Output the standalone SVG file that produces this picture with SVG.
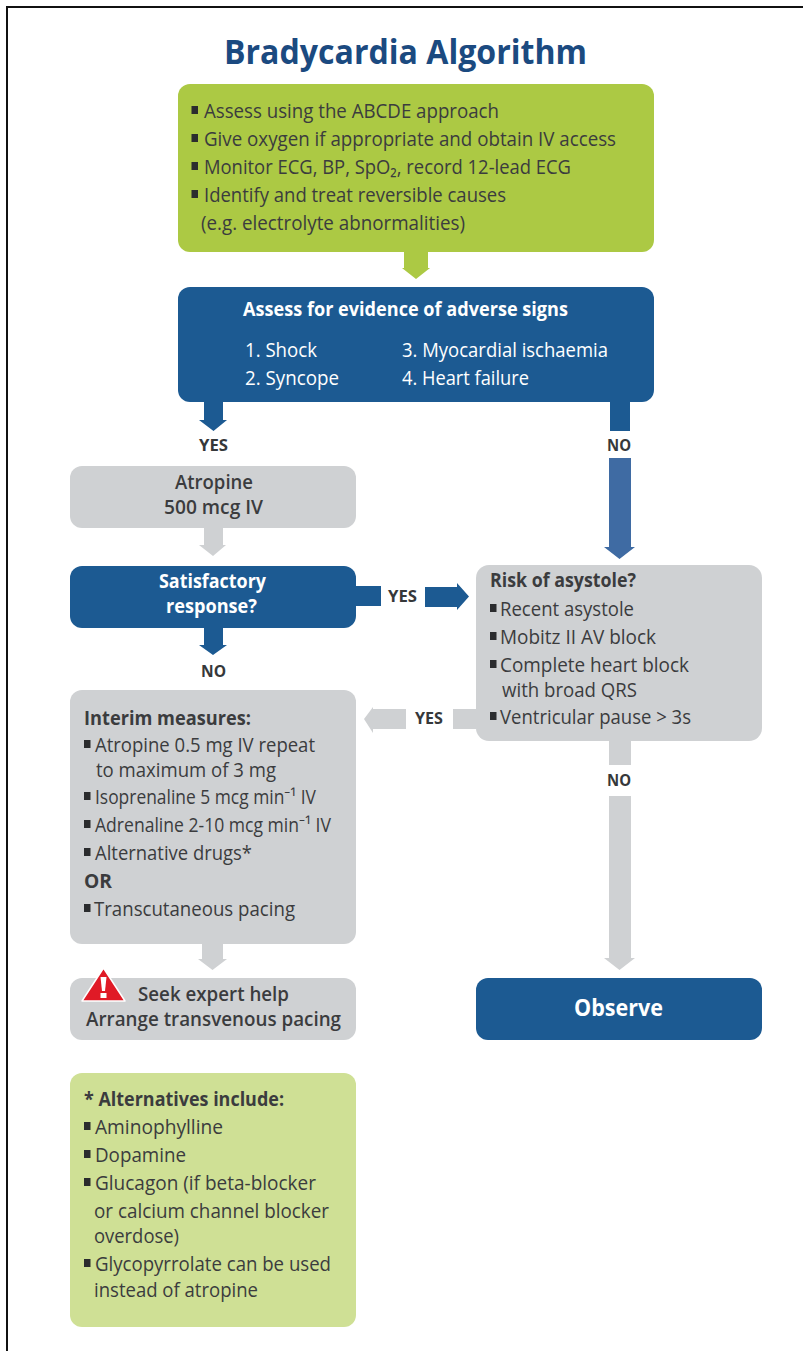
<svg xmlns="http://www.w3.org/2000/svg" width="803" height="1351" viewBox="0 0 803 1351">
<style>
text{font-family:"Open Sans","Noto Sans","Liberation Sans",sans-serif;font-size:20px;fill:#3b3c3e}
.b{font-weight:700}
.s{font-weight:600}
.w{fill:#fff}
.l{font-size:16.500px;font-weight:700;fill:#36383a}
.g{fill:#acc944}.pg{fill:#cfe095}.bl{fill:#1c5a92}.gr{fill:#cfd1d3}.bm{fill:#3f6ba3}
.bu{fill:#2b2c2e}
.sub{font-size:12px}
</style>
<defs><rect id="bu" class="bu" width="6.500" height="8"/></defs>
<rect width="803" height="1351" fill="#fff"/>
<path d="M7 1351V7H803" fill="none" stroke="#111" stroke-width="2"/>
<text id="title" x="224" y="64" textLength="363" lengthAdjust="spacingAndGlyphs" style="font-size:34px;font-weight:700;fill:#1b4a80">Bradycardia Algorithm</text>

<g id="connectors">
<path class="g" d="M404 252H428V268H430L416 279L402 268H404Z"/>
<path class="bl" d="M204 402H223V420H227L213.500 431L199 420H204Z"/>
<path class="bl" d="M610 402H630V431H610Z"/>
<text class="l" x="199" y="451" textLength="29" lengthAdjust="spacingAndGlyphs">YES</text>
<text class="l" x="607" y="451" textLength="24" lengthAdjust="spacingAndGlyphs">NO</text>
<path class="bm" d="M609 458H631V547H635L619.500 559L604 547H609Z"/>
<path class="gr" d="M204 528H223V545H226L213 556L199 545H204Z"/>
<path class="bl" d="M356 586H381V606H356Z"/>
<text class="l" x="388" y="602" textLength="29" lengthAdjust="spacingAndGlyphs">YES</text>
<path class="bl" d="M425 587H457V583L469 596.500L457 610V607H425Z"/>
<path class="bl" d="M204 628H223V645H227L213 655L199 645H204Z"/>
<text class="l" x="201" y="677" textLength="25" lengthAdjust="spacingAndGlyphs">NO</text>
<path class="gr" d="M453 709H476V729H453Z"/>
<text class="l" x="415" y="724" textLength="28" lengthAdjust="spacingAndGlyphs">YES</text>
<path class="gr" d="M406 709V729H373V733L364 719L373 707V709Z"/>
<path class="gr" d="M609 741H631V765H609Z"/>
<text class="l" x="607" y="786" textLength="24" lengthAdjust="spacingAndGlyphs">NO</text>
<path class="gr" d="M609 796H631V958H635L619.500 970L604 958H609Z"/>
<path class="gr" d="M202 943H223V959H227L212.500 970L198 959H202Z"/>
</g>

<g id="assess">
<rect class="g" x="178" y="84" width="476" height="168" rx="12"/>
<use href="#bu" x="191.500" y="106"/>
<text x="204" y="118" textLength="295" lengthAdjust="spacingAndGlyphs">Assess using the ABCDE approach</text>
<use href="#bu" x="191.500" y="134"/>
<text x="204" y="146" textLength="412" lengthAdjust="spacingAndGlyphs">Give oxygen if appropriate and obtain IV access</text>
<use href="#bu" x="191.500" y="162"/>
<text x="204" y="174" textLength="367" lengthAdjust="spacingAndGlyphs">Monitor ECG, BP, SpO₂, record 12-lead ECG</text>
<use href="#bu" x="191.500" y="190"/>
<text x="204" y="202" textLength="302" lengthAdjust="spacingAndGlyphs">Identify and treat reversible causes</text>
<text x="201" y="230" textLength="264" lengthAdjust="spacingAndGlyphs">(e.g. electrolyte abnormalities)</text>
</g>

<g id="adverse">
<rect class="bl" x="178" y="287" width="476" height="115" rx="12"/>
<text class="b w" x="243" y="316" textLength="325" lengthAdjust="spacingAndGlyphs">Assess for evidence of adverse signs</text>
<text class="w" x="245" y="357" textLength="72" lengthAdjust="spacingAndGlyphs">1. Shock</text>
<text class="w" x="402" y="357" textLength="206" lengthAdjust="spacingAndGlyphs">3. Myocardial ischaemia</text>
<text class="w" x="245" y="385" textLength="94" lengthAdjust="spacingAndGlyphs">2. Syncope</text>
<text class="w" x="402" y="385" textLength="127" lengthAdjust="spacingAndGlyphs">4. Heart failure</text>
</g>

<g id="atropine">
<rect class="gr" x="70" y="466" width="286" height="62" rx="12"/>
<text class="s" x="175" y="489" textLength="78" lengthAdjust="spacingAndGlyphs">Atropine</text>
<text class="s" x="164" y="514" textLength="99" lengthAdjust="spacingAndGlyphs">500 mcg IV</text>
</g>

<g id="satisfactory">
<rect class="bl" x="70" y="566" width="286" height="62" rx="12"/>
<text class="b w" x="159" y="588" textLength="107" lengthAdjust="spacingAndGlyphs">Satisfactory</text>
<text class="b w" x="166" y="613" textLength="91" lengthAdjust="spacingAndGlyphs">response?</text>
</g>

<g id="risk">
<rect class="gr" x="476" y="565" width="286" height="176" rx="13"/>
<text class="b" x="490" y="587" textLength="146" lengthAdjust="spacingAndGlyphs">Risk of asystole?</text>
<use href="#bu" x="490" y="604"/>
<text x="500" y="616" textLength="134" lengthAdjust="spacingAndGlyphs">Recent asystole</text>
<use href="#bu" x="490" y="632"/>
<text x="500" y="644" textLength="156" lengthAdjust="spacingAndGlyphs">Mobitz II AV block</text>
<use href="#bu" x="490" y="660"/>
<text x="500" y="672" textLength="189" lengthAdjust="spacingAndGlyphs">Complete heart block</text>
<text x="502" y="697" textLength="135" lengthAdjust="spacingAndGlyphs">with broad QRS</text>
<use href="#bu" x="490" y="712"/>
<text x="500" y="724" textLength="191" lengthAdjust="spacingAndGlyphs">Ventricular pause &gt; 3s</text>
</g>

<g id="interim">
<rect class="gr" x="70" y="690" width="286" height="254" rx="12"/>
<text class="b" x="84" y="725" textLength="167" lengthAdjust="spacingAndGlyphs">Interim measures:</text>
<use href="#bu" x="84" y="740"/>
<text x="95" y="752" textLength="220" lengthAdjust="spacingAndGlyphs">Atropine 0.5 mg IV repeat</text>
<text x="96" y="777" textLength="180" lengthAdjust="spacingAndGlyphs">to maximum of 3 mg</text>
<use href="#bu" x="84" y="792"/>
<text x="95" y="804" textLength="221" lengthAdjust="spacingAndGlyphs">Isoprenaline 5 mcg min⁻¹ IV</text>
<use href="#bu" x="84" y="820"/>
<text x="95" y="832" textLength="236" lengthAdjust="spacingAndGlyphs">Adrenaline 2-10 mcg min⁻¹ IV</text>
<use href="#bu" x="84" y="848"/>
<text x="95" y="860" textLength="157" lengthAdjust="spacingAndGlyphs">Alternative drugs*</text>
<text class="b" x="84" y="888" textLength="28" lengthAdjust="spacingAndGlyphs">OR</text>
<use href="#bu" x="84" y="904"/>
<text x="94" y="916" textLength="201" lengthAdjust="spacingAndGlyphs">Transcutaneous pacing</text>
</g>

<g id="expert">
<rect class="gr" x="70" y="978" width="286" height="62" rx="12"/>
<path d="M103.500 968L125 1001H82Z" fill="#e01a26" stroke="#fff" stroke-width="1.500" stroke-linejoin="round"/>
<path d="M100.500 977H106.500L105 991H102Z" fill="#fff"/>
<rect x="100.500" y="993" width="6" height="5" fill="#fff"/>
<text class="s" x="138" y="1001" textLength="151" lengthAdjust="spacingAndGlyphs">Seek expert help</text>
<text class="s" x="86" y="1026" textLength="255" lengthAdjust="spacingAndGlyphs">Arrange transvenous pacing</text>
</g>

<g id="observe">
<rect class="bl" x="476" y="978" width="286" height="62" rx="12"/>
<text class="b w" style="font-size:23px" x="574" y="1016" textLength="89" lengthAdjust="spacingAndGlyphs">Observe</text>
</g>

<g id="alternatives">
<rect class="pg" x="70" y="1073" width="286" height="254" rx="12"/>
<text class="b" x="84" y="1106" textLength="200" lengthAdjust="spacingAndGlyphs">* Alternatives include:</text>
<use href="#bu" x="84" y="1122"/>
<text x="95" y="1134" textLength="128" lengthAdjust="spacingAndGlyphs">Aminophylline</text>
<use href="#bu" x="84" y="1150"/>
<text x="95" y="1162" textLength="91" lengthAdjust="spacingAndGlyphs">Dopamine</text>
<use href="#bu" x="84" y="1178"/>
<text x="95" y="1190" textLength="221" lengthAdjust="spacingAndGlyphs">Glucagon (if beta-blocker</text>
<text x="94" y="1218" textLength="235" lengthAdjust="spacingAndGlyphs">or calcium channel blocker</text>
<text x="94" y="1243" textLength="85" lengthAdjust="spacingAndGlyphs">overdose)</text>
<use href="#bu" x="84" y="1259"/>
<text x="95" y="1271" textLength="236" lengthAdjust="spacingAndGlyphs">Glycopyrrolate can be used</text>
<text x="94" y="1297" textLength="164" lengthAdjust="spacingAndGlyphs">instead of atropine</text>
</g>
</svg>
